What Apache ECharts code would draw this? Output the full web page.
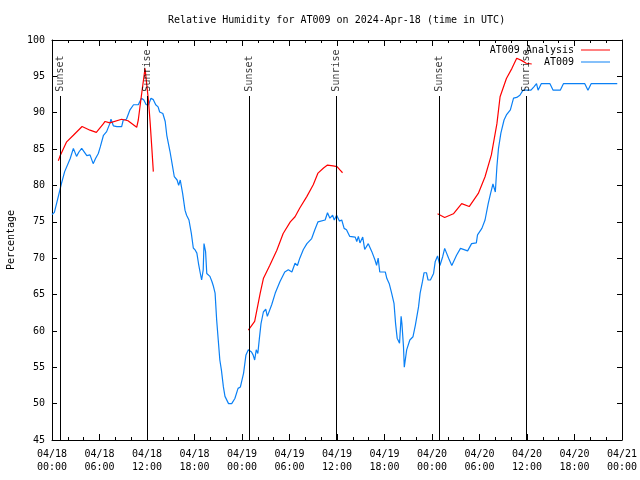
<!DOCTYPE html>
<html>
<head>
<meta charset="utf-8">
<script src="https://cdn.jsdelivr.net/npm/echarts@6/dist/echarts.min.js"></script>
<style>html,body{margin:0;padding:0;background:#fff}#c{width:640px;height:480px}</style>
</head>
<body>
<div id="c"></div>
<script>
// Hours since 2024-04-18 00:00 UTC
const xTickLabels = ["04/18\n00:00","04/18\n06:00","04/18\n12:00","04/18\n18:00","04/19\n00:00","04/19\n06:00","04/19\n12:00","04/19\n18:00","04/20\n00:00","04/20\n06:00","04/20\n12:00","04/20\n18:00","04/21\n00:00"];
const yTicks = [45,50,55,60,65,70,75,80,85,90,95,100];

const obsHours = [0.0,0.3,0.8,1.0,1.2,1.6,1.85,2.3,2.7,2.9,3.1,3.4,3.75,4.0,4.4,4.8,5.2,5.5,5.85,6.1,6.5,6.9,7.3,7.45,7.75,8.2,8.8,9.0,9.4,9.85,10.3,10.9,11.3,11.6,11.9,12.2,12.5,12.8,13.1,13.4,13.6,14.0,14.3,14.5,14.9,15.2,15.45,15.8,16.0,16.2,16.4,16.5,16.8,17.0,17.3,17.6,17.85,18.1,18.3,18.5,18.7,18.9,19.1,19.2,19.4,19.55,19.95,20.2,20.4,20.6,20.8,21.0,21.2,21.4,21.65,21.85,22.3,22.7,23.1,23.5,23.8,24.2,24.5,24.8,25.2,25.4,25.6,25.8,26.0,26.2,26.4,26.7,27.0,27.2,27.75,28.2,28.8,29.4,29.85,30.3,30.7,31.0,31.3,31.75,32.2,32.8,33.2,33.6,33.85,34.5,34.8,35.1,35.45,35.65,35.95,36.3,36.6,36.9,37.2,37.6,38.3,38.5,38.7,38.9,39.25,39.5,39.95,40.4,40.8,41.0,41.2,41.4,42.1,42.3,42.6,42.9,43.2,43.4,43.6,43.9,44.1,44.2,44.4,44.5,44.8,45.2,45.6,45.9,46.3,46.5,46.8,47.0,47.3,47.5,47.8,48.2,48.4,48.7,49.0,49.35,49.6,50.1,50.5,51.1,51.6,52.5,53.0,53.6,53.75,54.3,54.7,55.1,55.4,55.7,56.0,56.2,56.4,56.7,57.1,57.4,57.9,58.3,58.7,59.1,59.5,60.5,60.9,61.2,61.4,61.8,62.9,63.3,64.2,64.6,67.3,67.7,68.1,71.4];
const obsValues = [76.0,76.3,78.5,78.5,80.3,81.9,82.1,83.7,85.1,84.9,84.0,84.6,85.1,84.9,84.1,84.2,83.0,83.7,84.4,85.3,86.9,87.4,88.5,89.1,88.2,88.1,88.1,89.0,89.1,90.4,91.1,91.1,92.0,91.75,91.1,91.1,92.0,91.8,91.1,90.8,90.1,89.9,88.8,86.9,84.7,82.8,81.2,80.75,80.0,80.75,81.0,78.9,76.6,75.9,75.25,73.4,71.4,71.1,70.7,69.3,68.1,67.0,68.4,72.0,70.9,67.9,67.5,66.8,66.1,65.2,61.5,58.75,56.0,54.6,52.3,51.0,50.0,50.0,50.7,52.1,52.3,54.2,56.7,57.4,57.1,56.7,56.0,57.4,56.9,59.0,61.0,62.6,63.0,62.0,63.6,65.2,66.8,68.1,68.4,68.1,69.3,69.0,70.0,71.2,72.0,72.7,73.9,75.0,75.25,75.25,76.25,75.5,75.9,75.25,75.9,75.1,75.25,74.1,73.9,73.0,72.9,72.3,73.0,72.1,72.9,71.2,72.0,70.9,69.75,69.0,70.0,68.1,68.1,67.2,66.5,65.2,63.8,61.0,59.0,58.3,62.0,61.0,57.8,55.0,57.4,58.75,59.2,60.8,63.3,65.2,66.8,68.0,68.0,67.0,67.0,67.9,69.5,70.3,69.0,70.2,71.35,70.0,69.0,70.4,71.35,71.0,72.0,72.1,73.2,74.1,75.25,77.5,78.9,80.2,79.1,82.6,85.1,87.2,89.0,89.7,90.4,92.0,92.1,92.4,93.1,93.1,93.6,94.0,93.1,94.0,94.0,93.1,93.1,94.0,94.0,93.1,94.0,94.0];

// analysis: three separate runs, separated by null
const anaHours = [0.8,1.0,1.85,2.7,3.8,4.8,5.6,6.5,6.7,7.3,8.8,9.6,10.7,10.9,11.3,11.75,12.2,12.4,12.6,12.8,
  18.0,
  24.8,25.6,26.3,26.7,27.5,28.4,29.2,30.1,30.7,31.3,32.2,33.0,33.6,34.3,34.8,35.5,36.0,36.4,36.7,
  42.0,
  48.7,49.6,50.7,51.75,52.7,53.85,54.7,55.5,56.2,56.6,57.4,58.1,58.7,59.3,59.9,60.6];
const anaValues = [83.4,84.0,86.0,86.9,88.1,87.6,87.3,88.5,88.8,88.6,89.1,88.9,88.0,89.0,92.4,96.1,91.5,88.6,85.3,81.9,
  null,
  60.1,61.3,65.2,67.2,69.0,71.1,73.4,75.0,75.7,76.9,78.5,80.1,81.7,82.4,82.8,82.7,82.6,82.1,81.75,
  null,
  76.1,75.6,76.1,77.5,77.1,78.9,81.2,84.2,88.5,92.2,94.7,96.1,97.5,97.2,96.8,96.7];

const sunHours = [1.1, 12.05, 24.92, 35.9, 48.92, 59.87];
const sunNames = ["Sunset","Sunrise","Sunset","Sunrise","Sunset","Sunrise"];

const FONT = "DejaVu Sans Mono";
const chart = echarts.init(document.getElementById('c'), null, {renderer:'canvas'});

const xBase = {
  type:'value', min:0, max:72, interval:6,
  axisLine:{show:true, onZero:false, lineStyle:{color:'#000', width:1}},
  axisTick:{show:true, inside:true, length:6, lineStyle:{color:'#000'}},
  minorTick:{show:true, splitNumber:3, length:3, lineStyle:{color:'#000'}},
  splitLine:{show:false}
};
const yBase = {
  type:'value', min:45, max:100, interval:5,
  axisLine:{show:true, onZero:false, lineStyle:{color:'#000', width:1}},
  axisTick:{show:true, inside:true, length:5, lineStyle:{color:'#000'}},
  splitLine:{show:false}
};

const legendCommon = {
  orient:'vertical', align:'right', icon:'rect', itemWidth:29, itemHeight:1, itemGap:2, padding:0,
  textStyle:{fontFamily:FONT, fontSize:10, color:'#000', padding:[0,2,0,0], lineHeight:12}
};

chart.setOption({
  animation:false,
  backgroundColor:'#fff',
  title:{
    text:'Relative Humidity for AT009 on 2024-Apr-18 (time in UTC)',
    left:163, top:9,
    textStyle:{fontFamily:FONT, fontSize:10, fontWeight:'normal', color:'#000', lineHeight:12}
  },
  grid:{left:52, right:18, top:40, bottom:40, containLabel:false, outerBoundsMode:'none'},
  legend:[
    Object.assign({}, legendCommon, {data:['AT009 Analysis'], right:30, top:44}),
    Object.assign({}, legendCommon, {data:['AT009'], right:30, top:56})
  ],
  xAxis:[
    Object.assign({}, xBase, {position:'bottom',
      axisLabel:{show:true, margin:8, color:'#000', fontFamily:FONT, fontSize:10, lineHeight:13,
        formatter:function(v){ return xTickLabels[Math.round(v/6)] || ''; }}}),
    Object.assign({}, xBase, {position:'top', axisLabel:{show:false}})
  ],
  yAxis:[
    Object.assign({}, yBase, {position:'left',
      name:'Percentage', nameLocation:'middle', nameGap:36, nameRotate:90,
      nameTextStyle:{fontFamily:FONT, fontSize:10, color:'#000'},
      axisLabel:{show:true, margin:7, color:'#000', fontFamily:FONT, fontSize:10,
        formatter:function(v){ return yTicks.indexOf(v) >= 0 ? String(v) : ''; }}}),
    Object.assign({}, yBase, {position:'right', axisLabel:{show:false}})
  ],
  series:[
    {
      name:'AT009 Analysis', type:'line', xAxisIndex:0, yAxisIndex:0,
      data: anaHours.map((h,i)=>[h, anaValues[i]]),
      connectNulls:false, symbol:'none', showSymbol:false,
      lineStyle:{color:'#ff0000', width:1.2}, itemStyle:{color:'#ff0000'}, z:3
    },
    {
      name:'AT009', type:'line', xAxisIndex:0, yAxisIndex:0,
      data: obsHours.map((h,i)=>[h, obsValues[i]]),
      symbol:'none', showSymbol:false,
      lineStyle:{color:'#0a80f5', width:1.2}, itemStyle:{color:'#0a80f5'}, z:2,
      markLine:{
        silent:true, symbol:['none','none'],
        lineStyle:{color:'#000', width:1, type:'solid'},
        label:{show:false},
        data: sunHours.map(h=>[{coord:[h,45]},{coord:[h,92.3]}])
      }
    },
    {
      name:'sun', type:'scatter', xAxisIndex:0, yAxisIndex:0,
      symbolSize:0, silent:true,
      data: sunHours.map((h,i)=>({value:[h,92.9], name:sunNames[i]})),
      label:{show:true, position:'inside', formatter:'{b}', rotate:90, align:'left', verticalAlign:'middle',
        fontFamily:FONT, fontSize:10, color:'#000'},
      z:4
    }
  ]
});
</script>
</body>
</html>
